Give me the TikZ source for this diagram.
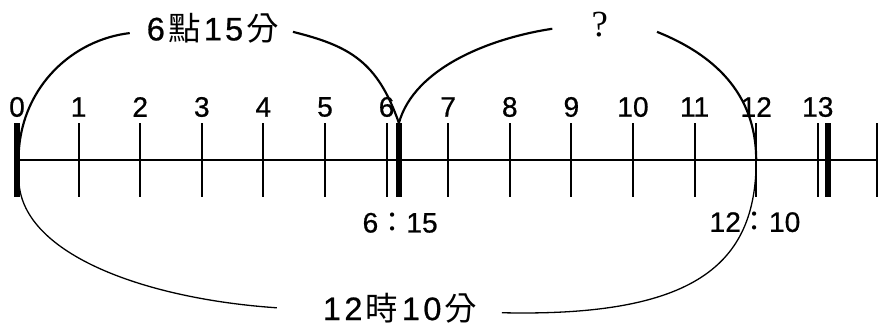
\documentclass[tikz,border=0pt]{standalone}
\usepackage{fontspec}
\setmainfont{Liberation Sans}[FakeBold=0.7]
\newfontfamily\cjk{Noto Sans CJK TC}
\newfontfamily\qfont{Liberation Serif}
\usetikzlibrary{positioning}

\begin{document}
\begin{tikzpicture}[line join=round,
  tick/.style={line width=0.9pt},
  thicktick/.style={line width=2.6pt},
  arc/.style={line width=1pt},
  arcthin/.style={line width=0.6pt},
  num/.style={font=\fontsize{13}{15}\selectfont,inner sep=0pt},
  lbl/.style={font=\fontsize{15}{17}\selectfont,inner sep=0pt},
  declare function={th=0.6;}]
  \useasboundingbox (-0.276,-2.744) rectangle (13.994,2.597);
  % truc thoi gian
  \draw[line width=0.9pt] (0,0) -- (13.96,0);
  \draw[thicktick] (0,-th) -- (0,th);
  \node[num] (n0) at (0,0.86) {0};
  \foreach \i in {1,...,13}{
    \draw[tick] (\i,-th) -- (\i,th);
    \node[num] (n\i) at (\i,0.86) {\i};
  }
  \draw[thicktick] (6.2,-th) -- (6.2,th);
  \draw[thicktick] (13.17,-th) -- (13.17,th);
  \draw[tick] (13.96,-th) -- (13.96,th);
  % cac diem moc
  \coordinate (c0top) at (0.03,0.15);
  \coordinate (c0bot) at (0.03,-0.3);
  \coordinate (c615) at (6.2,0.6);
  \coordinate (c12) at (12,0);
  \node[num] (lbD) at (6.22,-1.02) {6{\cjk ：}15};
  \node[num] (lbE) at (11.98,-1.01) {12{\cjk ：}10};
  % nhan tren cung
  \node[lbl] (lbA) at (3.18,2.14) {6\hspace{1.5pt}{\cjk 點}\hspace{1.5pt}1\hspace{1.5pt}5\hspace{1.5pt}{\cjk 分}};
  \node[font=\qfont\fontsize{17}{20}\selectfont,inner sep=0pt] (lbB) at (9.46,2.19) {?};
  \node[lbl] (lbC) at (6.22,-2.40) {1\hspace{1.6pt}2\hspace{1.6pt}{\cjk 時}\hspace{1.6pt}1\hspace{1.6pt}0\hspace{1.6pt}{\cjk 分}};
  \coordinate (a1) at (1.83,2.06);
  \coordinate (a2) at (4.48,2.08);
  \coordinate (b1) at (8.69,2.13);
  \coordinate (b2) at (10.39,2.08);
  \coordinate (d1) at (7.87,-2.48);
  \coordinate (d2) at (4.22,-2.40);
  \draw[arc] (c0top) .. controls (0.1,1.2) and (0.9,1.95) .. (a1);
  \draw[arc] (a2) .. controls (5.4,1.85) and (5.85,1.6) .. (c615);
  \draw[arc] (c615) .. controls (6.45,1.5) and (7.69,1.98) .. (b1);
  \draw[arc] (b2) .. controls (11.29,1.72) and (12,1.1) .. (c12);
  \draw[arcthin] (c12) .. controls (12,-1.7) and (11.0,-2.55) .. (d1);
  \draw[arcthin] (d2) .. controls (2.02,-2.25) and (0.03,-1.5) .. (c0bot);
\end{tikzpicture}
\end{document}
